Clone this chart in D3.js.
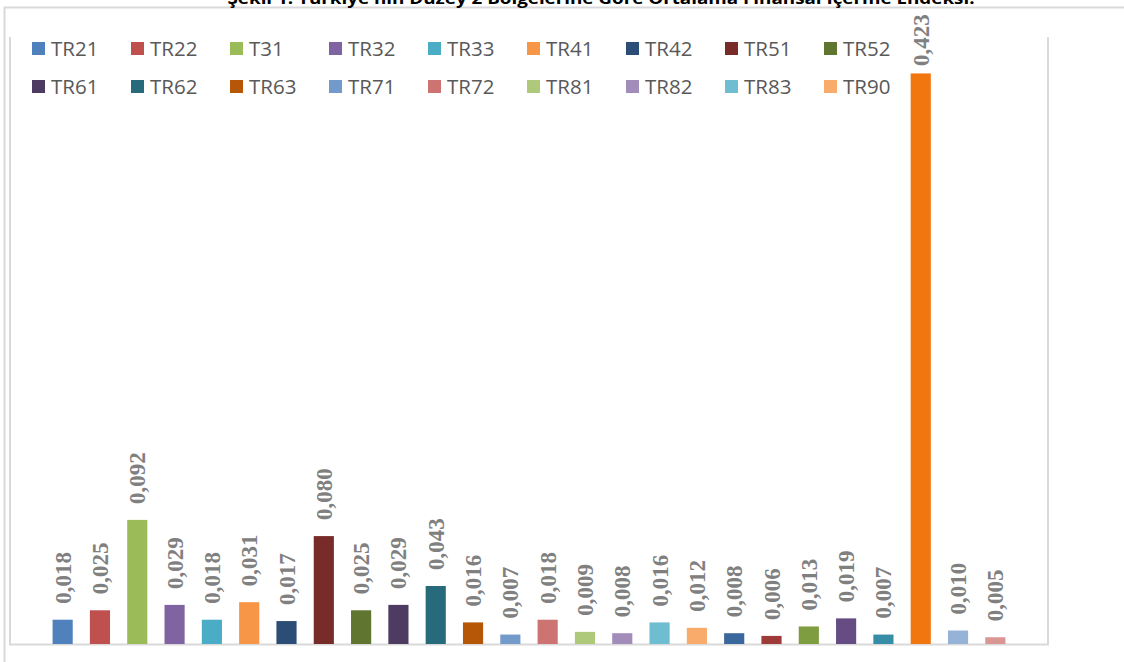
<!DOCTYPE html>
<html><head><meta charset="utf-8">
<script src="https://cdn.jsdelivr.net/npm/d3@7"></script>
<style>body{margin:0;background:#fff}svg{display:block}</style>
</head><body>
<svg id="c" width="1124" height="662"></svg>
<script>
const categories = ["TR21","TR22","T31","TR32","TR33","TR41","TR42","TR51","TR52","TR61","TR62","TR63","TR71","TR72","TR81","TR82","TR83","TR90","TRA1","TRA2","TRB1","TRB2","TRC1","TR10","TRC2","TRC3"];
const values = [0.018,0.025,0.092,0.029,0.018,0.031,0.017,0.080,0.025,0.029,0.043,0.016,0.007,0.018,0.009,0.008,0.016,0.012,0.008,0.006,0.013,0.019,0.007,0.423,0.010,0.005];
const labels = ["0,018","0,025","0,092","0,029","0,018","0,031","0,017","0,080","0,025","0,029","0,043","0,016","0,007","0,018","0,009","0,008","0,016","0,012","0,008","0,006","0,013","0,019","0,007","0,423","0,010","0,005"];
const colors = ["#4F81BD","#C0504D","#9BBB59","#8064A2","#4BACC6","#F79646","#2C4D75","#772C2A","#5F7530","#4D3B62","#276A7C","#B65708","#729ACA","#CD7371","#AFC97A","#A18CBA","#6FBDD1","#F9AB6B","#3A679C","#9E3B38","#7E9C40","#654D83","#358EA6","#F2760F","#95B3D7","#D99694"];
const legendShown = categories.slice(0, 18);
const title = "Şekil 1: Türkiye'nin Düzey 2 Bölgelerine Göre Ortalama Finansal İçerme Endeksi.";

const svg = d3.select("#c");
const grey = "#d9d9d9";

// outer chart border
svg.append("path").attr("d","M4.5,662 V7.5 H1124").attr("fill","none").attr("stroke",grey).attr("stroke-width",2);

// title (clipped at top)
svg.append("text").attr("x",601).attr("y",4).attr("text-anchor","middle")
  .attr("font-family","'Open Sans', sans-serif").attr("font-weight","bold").attr("font-size",16)
  .attr("fill","#000").attr("textLength",747).attr("lengthAdjust","spacingAndGlyphs").text(title);

const x = d3.scaleBand().domain(categories).range([44,1014]).paddingInner(0.46).paddingOuter(0.23);
const y = d3.scaleLinear().domain([0,0.45]).range([644,37]);

// plot area frame (left, bottom, right)
svg.append("path").attr("d","M10,37 V644.5 H1048 V37").attr("fill","none").attr("stroke",grey).attr("stroke-width",2);

// bars
svg.append("g").selectAll("rect").data(values).join("rect")
  .attr("x",(d,i)=>x(categories[i])).attr("width",x.bandwidth())
  .attr("y",d=>y(d)).attr("height",d=>y(0)-y(d))
  .attr("fill",(d,i)=>colors[i]);

// data labels
svg.append("g").selectAll("text").data(values).join("text")
  .attr("transform",(d,i)=>{
    const cx = x(categories[i]) + x.bandwidth()/2;
    let start = y(d) - 16;
    start = Math.max(start, 66);
    return `translate(${cx},${start}) rotate(-90)`;
  })
  .attr("dy","0.35em")
  .attr("font-family","'Liberation Serif', 'Times New Roman', serif").attr("font-weight","bold")
  .attr("font-size",23).attr("fill","#808080")
  .text((d,i)=>labels[i]);

// legend
const lg = svg.append("g");
legendShown.forEach((c,i)=>{
  const col = i % 9, row = Math.floor(i/9);
  const lx = 32 + col*99, ly = 49 + row*38;
  lg.append("rect").attr("x",lx).attr("y",ly-7).attr("width",13).attr("height",13).attr("fill",colors[i]);
  lg.append("text").attr("x",lx+19).attr("y",ly).attr("dy","0.36em")
    .attr("font-family","'Open Sans', sans-serif").attr("font-size",20.5).attr("fill","#595959").text(c);
});
</script>
</body></html>
